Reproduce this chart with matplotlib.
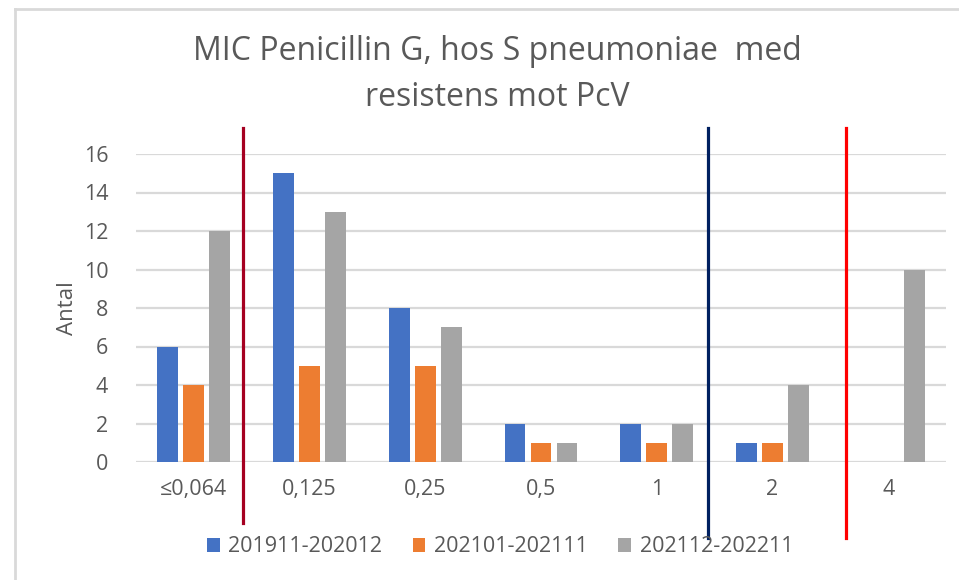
import matplotlib
matplotlib.use("Agg")
import matplotlib.pyplot as plt
import numpy as np
from matplotlib.lines import Line2D

categories = ["≤0,064", "0,125", "0,25", "0,5", "1", "2", "4"]
series_names = ["201911-202012", "202101-202111", "202112-202211"]
s1 = [6, 15, 8, 2, 2, 1, 0]
s2 = [4, 5, 5, 1, 1, 1, 0]
s3 = [12, 13, 7, 1, 2, 4, 10]
colors = ["#4472C4", "#ED7D31", "#A5A5A5"]
yticks = [0, 2, 4, 6, 8, 10, 12, 14, 16]
# breakpoint marker positions (in category units)
vlines = [0.424, 4.44, 5.635]
vcolors = ["#A50021", "#002060", "#FF0000"]
vbottoms = [-0.198, -0.247, -0.247]

plt.rcParams['font.family'] = ['Open Sans', 'DejaVu Sans']
txt = "#595959"

fig = plt.figure(figsize=(9.59, 5.8), dpi=100)
ax = fig.add_axes([136/959, 1-462/580, (946-136)/959, (462-154)/580])

x = np.arange(len(categories))
w = 0.18
off = 0.225
for i, (vals, c, name) in enumerate(zip([s1, s2, s3], colors, series_names)):
    ax.bar(x + (i-1)*off, vals, width=w, color=c, label=name, zorder=3)

ax.set_xlim(-0.5, len(categories)-0.5)
ax.set_ylim(0, 16)
ax.set_yticks(yticks)
ax.set_xticks(x)
ax.set_xticklabels(categories)
ax.grid(axis='y', color='#D9D9D9', linewidth=1.6, zorder=0)
for s in ax.spines.values():
    s.set_visible(False)
ax.tick_params(axis='both', length=0, labelsize=15.5, labelcolor=txt)
ax.tick_params(axis='x', pad=12)
ax.tick_params(axis='y', pad=20)
ax.set_ylabel("Antal", fontsize=16, color=txt, labelpad=4)

for xv, c, yb in zip(vlines, vcolors, vbottoms):
    ax.axvline(xv, ymin=yb, ymax=1.084, color=c, linewidth=2.3, clip_on=False, zorder=4)

fig.text(497/959, 1-52/580, "MIC Penicillin G, hos S pneumoniae  med", ha='center', va='center',
         fontsize=23, color=txt)
fig.text(497/959, 1-97/580, "resistens mot PcV", ha='center', va='center',
         fontsize=23, color=txt)

leg = fig.legend(loc='center', bbox_to_anchor=(500/959, 1-547/580), ncol=3, frameon=False,
                 fontsize=15.5, handlelength=0.6, handleheight=0.6, columnspacing=1.4,
                 handletextpad=0.4, labelcolor=txt)

# chart border (top and left visible)
fig.add_artist(Line2D([15/959, 1.0], [1-9/580, 1-9/580], color='#D9D9D9', linewidth=2))
fig.add_artist(Line2D([15/959, 15/959], [0, 1-9/580], color='#D9D9D9', linewidth=2))

fig.savefig("out.png", dpi=100)
